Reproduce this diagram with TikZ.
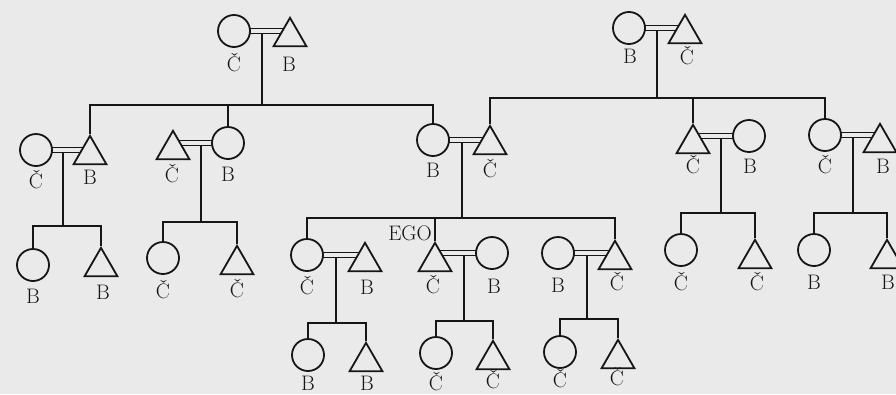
\documentclass[tikz,border=0pt]{standalone}
\usepackage{fontspec}
\usetikzlibrary{shapes.geometric,backgrounds}
\definecolor{paper}{RGB}{234,234,234}
\definecolor{ink}{RGB}{22,22,22}
\tikzset{
  kin/.style={draw=ink, line width=1.8pt, fill=paper, inner sep=0pt},
  female/.style={kin, circle, minimum size=32pt},
  male/.style={kin, regular polygon, regular polygon sides=3, minimum size=38pt, anchor=corner 1},
  marriage/.style={draw=ink, line width=1.6pt, double=paper, double distance=3.4pt},
  descent/.style={draw=ink, line width=2pt},
  tag/.style={font=\fontsize{21}{24}\selectfont, anchor=base, inner sep=0pt, text=ink},
}
\begin{document}
\begin{tikzpicture}[x=1pt, y=-1pt]
\useasboundingbox (0,0) rectangle (896,394);
\clip (0,0) rectangle (896,394);

% ---- generation 1 ----
\node[female] (gpLw) at (234,31) {};
\node[male]   (gpLh) at (290,16) {};
\node[female] (gpRw) at (629,28) {};
\node[male]   (gpRh) at (685,13) {};

% ---- generation 2 ----
\node[female] (aLw) at (36,150) {};
\node[male]   (aLh) at (90,134) {};
\node[male]   (bLh) at (173,129) {};
\node[female] (bLw) at (228,143) {};
\node[female] (par)  at (433,140) {};
\node[male]   (fat)  at (490,124) {};
\node[male]   (aRh) at (693,123) {};
\node[female] (aRw) at (749,136) {};
\node[female] (bRw) at (825,135) {};
\node[male]   (bRh) at (880,122) {};

% ---- generation 3 ----
\node[female] (k1) at (33,265) {};
\node[male]   (k2) at (101,246) {};
\node[female] (k3) at (163,258) {};
\node[male]   (k4) at (237,244) {};
\node[female] (sis)  at (307,255) {};
\node[male]   (sisH) at (365,241) {};
\node[male]   (ego)  at (435,241) {};
\node[female] (egoW) at (492,253) {};
\node[female] (broW) at (558,253) {};
\node[male]   (bro)  at (615,239) {};
\node[female] (k5) at (681,250) {};
\node[male]   (k6) at (755,238) {};
\node[female] (k7) at (814,250) {};
\node[male]   (k8) at (887,238) {};

% ---- generation 4 ----
\node[female] (n1) at (308,355) {};
\node[male]   (n2) at (366,341) {};
\node[female] (n3) at (436,353) {};
\node[male]   (n4) at (493,339) {};
\node[female] (n5) at (560,352) {};
\node[male]   (n6) at (618,338) {};

% ---- heights of the sibling bars ----
\coordinate (barA) at (0,105);
\coordinate (barB) at (0,98);
\coordinate (barC) at (0,226);
\coordinate (barD) at (0,222);
\coordinate (barE) at (0,218);
\coordinate (barF) at (0,213);
\coordinate (barG) at (0,213);
\coordinate (barH) at (0,323);
\coordinate (barI) at (0,321);
\coordinate (barJ) at (0,319);

\begin{scope}[on background layer]
\fill[paper] (0,0) rectangle (896,394);

% marriages, each with the point where the descent line leaves it
\draw[marriage] (gpLw.center) -- (gpLw.center -| gpLh.corner 1) coordinate[midway] (uA);
\draw[marriage] (gpRw.center) -- (gpRw.center -| gpRh.corner 1) coordinate[midway] (uB);
\draw[marriage] (aLw.center) -- (aLw.center -| aLh.corner 1) coordinate[midway] (uC);
\draw[marriage] (bLw.center) -- (bLw.center -| bLh.corner 1) coordinate[midway] (uD);
\draw[marriage] (par.center) -- (par.center -| fat.corner 1) coordinate[midway] (uE);
\draw[marriage] (aRw.center) -- (aRw.center -| aRh.corner 1) coordinate[midway] (uF);
\draw[marriage] (bRw.center) -- (bRw.center -| bRh.corner 1) coordinate[midway] (uG);
\draw[marriage] (sis.center) -- (sis.center -| sisH.corner 1) coordinate[midway] (uH);
\draw[marriage] (egoW.center) -- (egoW.center -| ego.corner 1) coordinate[midway] (uI);
\draw[marriage] (broW.center) -- (broW.center -| bro.corner 1) coordinate[midway] (uJ);

% descent lines
\foreach \u/\b in {uA/barA,uB/barB,uC/barC,uD/barD,uE/barE,uF/barF,uG/barG,uH/barH,uI/barI,uJ/barJ}
  \draw[descent] ([yshift=-2.6pt]\u) -- (\u |- \b);

% sibling bars
\draw[descent] (aLh.corner 1) -- (aLh.corner 1 |- barA) -- (par.north |- barA) -- (par.north);
\draw[descent] (bLw.north) -- (bLw.north |- barA);
\draw[descent] (fat.corner 1) -- (fat.corner 1 |- barB) -- (bRw.north |- barB) -- (bRw.north);
\draw[descent] (aRh.corner 1) -- (aRh.corner 1 |- barB);
\draw[descent] (k1.north) -- (k1.north |- barC) -- (k2.corner 1 |- barC) -- (k2.corner 1);
\draw[descent] (k3.north) -- (k3.north |- barD) -- (k4.corner 1 |- barD) -- (k4.corner 1);
\draw[descent] (sis.north) -- (sis.north |- barE) -- (bro.corner 1 |- barE) -- (bro.corner 1);
\draw[descent] (ego.corner 1) -- (ego.corner 1 |- barE);
\draw[descent] (k5.north) -- (k5.north |- barF) -- (k6.corner 1 |- barF) -- (k6.corner 1);
\draw[descent] (k7.north) -- (k7.north |- barG) -- (k8.corner 1 |- barG) -- (k8.corner 1);
\draw[descent] (n1.north) -- (n1.north |- barH) -- (n2.corner 1 |- barH) -- (n2.corner 1);
\draw[descent] (n3.north) -- (n3.north |- barI) -- (n4.corner 1 |- barI) -- (n4.corner 1);
\draw[descent] (n5.north) -- (n5.north |- barJ) -- (n6.corner 1 |- barJ) -- (n6.corner 1);
\end{scope}

% ---- moiety labels ----
\node[tag] (tgpLw) at (234,71) {Č};
\node[tag] (tgpLh) at (289,71) {B};
\node[tag] (tgpRw) at (630,63) {B};
\node[tag] (tgpRh) at (687,64) {Č};

\node[tag] (taLw) at (36,188) {Č};
\node[tag] (taLh) at (90,184) {B};
\node[tag] (tbLh) at (172,182) {Č};
\node[tag] (tbLw) at (228,181) {B};
\node[tag] (tpar) at (433,177) {B};
\node[tag] (tfat) at (490,177) {Č};
\node[tag] (taRh) at (693,173) {Č};
\node[tag] (taRw) at (750,173) {B};
\node[tag] (tbRw) at (825,173) {Č};
\node[tag] (tbRh) at (883,173) {B};

\node[tag] (tk1) at (33,303) {B};
\node[tag] (tk2) at (103,299) {B};
\node[tag] (tk3) at (163,298) {Č};
\node[tag] (tk4) at (237,297) {Č};
\node[tag] (tsis)  at (307,294) {Č};
\node[tag] (tsisH) at (367,294) {B};
\node[tag] (tego)  at (433,293) {Č};
\node[tag] (tegoW) at (494,293) {B};
\node[tag] (tbroW) at (558,292) {B};
\node[tag] (tbro)  at (617,290) {Č};
\node[tag] (tk5) at (681,290) {Č};
\node[tag] (tk6) at (757,290) {Č};
\node[tag] (tk7) at (814,289) {B};
\node[tag] (tk8) at (888,289) {B};

\node[tag] (tn1) at (308,390) {B};
\node[tag] (tn2) at (367,390) {B};
\node[tag] (tn3) at (436,390) {Č};
\node[tag] (tn4) at (493,388) {Č};
\node[tag] (tn5) at (560,387) {Č};
\node[tag] (tn6) at (617,385) {Č};

\node[tag, anchor=base east] (egotag) at (432,240) {EGO};
\end{tikzpicture}
\end{document}
